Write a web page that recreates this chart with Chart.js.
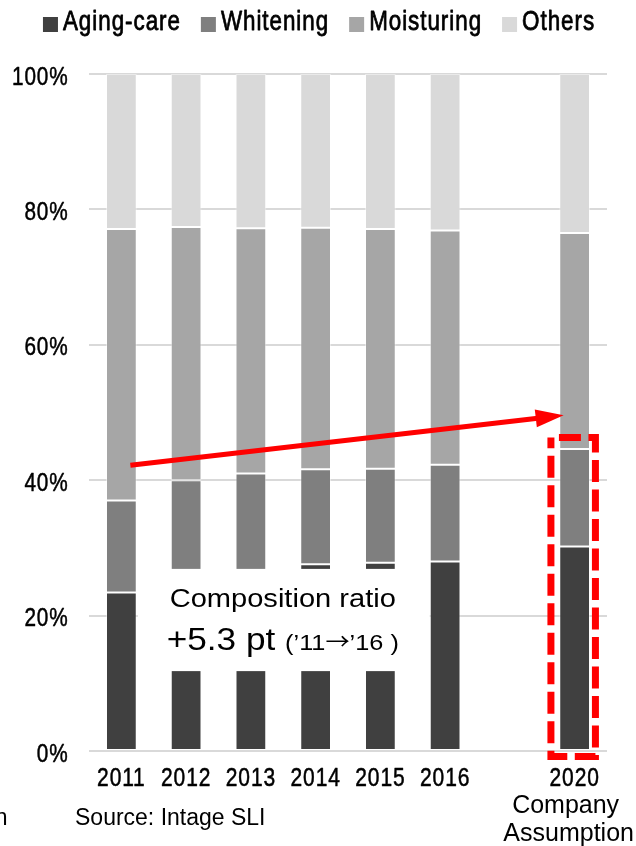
<!DOCTYPE html>
<html>
<head>
<meta charset="utf-8">
<script src="https://cdn.jsdelivr.net/npm/chart.js@4"></script>
<style>
  html, body { margin: 0; padding: 0; background: #fff; }
  #wrap { width: 636px; height: 846px; position: relative; }
</style>
</head>
<body>
<div id="wrap"><canvas id="c" width="636" height="846"></canvas></div>
<script>
// Category axis (an empty slot separates the actuals from the 2020 outlook)
const years = ['2011', '2012', '2013', '2014', '2015', '2016', '', '2020'];

// Share of each segment, % of total
const agingCare  = [23.4, 25.0, 26.0, 27.6, 27.8, 28.0, null, 30.2];
const whitening  = [13.6, 15.0, 15.0, 14.0, 13.9, 14.3, null, 14.4];
const moisturing = [40.1, 37.4, 36.2, 35.7, 35.4, 34.6, null, 31.9];
const others     = [22.9, 22.6, 22.8, 22.7, 22.9, 23.1, null, 23.5];

const seriesNames  = ['Aging-care', 'Whitening', 'Moisturing', 'Others'];
const seriesColors = ['#404040', '#7f7f7f', '#a6a6a6', '#d9d9d9'];
const yTickValues  = [0, 20, 40, 60, 80, 100];

// Trend arrow: aging-care + whitening share, 2011 level to 2020 level
const arrowStart = { index: 0, value: 42.2 };
const arrowEnd   = { index: 7, value: 49.6 };
// Dashed highlight around the 2020 functional share
const highlightTop = 46.3;
const highlightBottom = -0.8;
// White callout band across the middle bars
const calloutTop = 26.9;
const calloutBottom = 11.8;

const SANS = "'Liberation Sans', Arial, sans-serif";
const CJK = "'Noto Sans CJK JP', 'DejaVu Sans', sans-serif";

// Draws text squeezed/stretched horizontally by sx, optionally thickened and letter-spaced
function stretchedText(ctx, text, font, x, y, sx, align, weight, spacing) {
  ctx.save();
  ctx.font = font;
  if (spacing) ctx.letterSpacing = spacing + 'px';
  const w = ctx.measureText(text).width * sx;
  let left = x;
  if (align === 'center') left = x - w / 2;
  else if (align === 'right') left = x - w;
  ctx.translate(left, y);
  ctx.scale(sx, 1);
  ctx.textAlign = 'left';
  ctx.fillText(text, 0, 0);
  if (weight) {
    ctx.strokeStyle = ctx.fillStyle;
    ctx.lineWidth = weight;
    ctx.lineJoin = 'round';
    ctx.strokeText(text, 0, 0);
  }
  ctx.restore();
  return w;
}
function textWidth(ctx, text, font, sx, spacing) {
  ctx.save();
  ctx.font = font;
  if (spacing) ctx.letterSpacing = spacing + 'px';
  const w = ctx.measureText(text).width * sx;
  ctx.restore();
  return w;
}

const overlay = {
  id: 'overlay',
  afterDraw(chart) {
    const ctx = chart.ctx;
    const xs = chart.scales.x;
    const ys = chart.scales.y;
    const bars0 = chart.getDatasetMeta(0).data;

    // axis labels
    ctx.save();
    ctx.fillStyle = '#000000';
    ctx.textBaseline = 'alphabetic';
    ys.ticks.forEach(t => {
      const py = ys.getPixelForValue(t.value);
      stretchedText(ctx, t.value + '%', '25px ' + SANS, xs.left - 20.5, py + 10.5, 0.83, 'right', 0.5, 1);
    });
    xs.ticks.forEach((t, i) => {
      const lab = chart.data.labels[i];
      if (!lab) return;
      stretchedText(ctx, lab, '25px ' + SANS, xs.getPixelForTick(i), 786, 0.84, 'center', 0.5, 1);
    });
    ctx.restore();

    // white callout band
    const b2011 = bars0[0];
    const b2016 = bars0[5];
    const left = b2011.x + b2011.width / 2 + 1;
    const right = b2016.x - b2016.width / 2;
    const top = ys.getPixelForValue(calloutTop);
    const bottom = ys.getPixelForValue(calloutBottom);
    ctx.save();
    ctx.fillStyle = '#ffffff';
    ctx.fillRect(left, top, right - left, bottom - top);

    // callout text
    ctx.fillStyle = '#000000';
    ctx.textBaseline = 'alphabetic';
    const cx = (left + right) / 2 - 1;
    stretchedText(ctx, 'Composition ratio', '25.5px ' + SANS, cx, top + 38, 1.14, 'center');
    const bigFont = '32px ' + SANS, smallFont = '22px ' + SANS, arrowFont = '22px ' + CJK;
    const wBig = textWidth(ctx, '+5.3 pt ', bigFont, 1.1);
    const wA = textWidth(ctx, '(\u201911', smallFont, 1.15);
    const wArr = textWidth(ctx, '\u2192', arrowFont, 1.1);
    const wB = textWidth(ctx, '\u201916 )', smallFont, 1.15);
    let tx = cx - (wBig + wA + wArr + wB) / 2;
    const ty = top + 81;
    stretchedText(ctx, '+5.3 pt ', bigFont, tx, ty, 1.1, 'left'); tx += wBig;
    stretchedText(ctx, '(\u201911', smallFont, tx, ty, 1.15, 'left'); tx += wA;
    stretchedText(ctx, '\u2192', arrowFont, tx, ty - 1, 1.1, 'left'); tx += wArr;
    stretchedText(ctx, '\u201916 )', smallFont, tx, ty, 1.15, 'left');
    ctx.restore();

    // red trend arrow
    const x1 = xs.getPixelForValue(arrowStart.index) + 9;
    const y1 = ys.getPixelForValue(arrowStart.value);
    const x2 = xs.getPixelForValue(arrowEnd.index) - 11;
    const y2 = ys.getPixelForValue(arrowEnd.value);
    const ang = Math.atan2(y2 - y1, x2 - x1);
    const headLen = 28, headHalf = 9;
    const bx = x2 - headLen * Math.cos(ang);
    const by = y2 - headLen * Math.sin(ang);
    ctx.save();
    ctx.strokeStyle = '#ff0000';
    ctx.fillStyle = '#ff0000';
    ctx.lineWidth = 5;
    ctx.beginPath();
    ctx.moveTo(x1, y1);
    ctx.lineTo(bx + 2 * Math.cos(ang), by + 2 * Math.sin(ang));
    ctx.stroke();
    ctx.beginPath();
    ctx.moveTo(x2, y2);
    ctx.lineTo(bx + headHalf * Math.sin(ang), by - headHalf * Math.cos(ang));
    ctx.lineTo(bx - headHalf * Math.sin(ang), by + headHalf * Math.cos(ang));
    ctx.closePath();
    ctx.fill();
    ctx.restore();

    // dashed highlight around 2020
    const c20 = xs.getPixelForValue(7);
    const hx1 = c20 - 23.7, hx2 = c20 + 20.8;
    const hy1 = ys.getPixelForValue(highlightTop);
    const hy2 = ys.getPixelForValue(highlightBottom);
    ctx.save();
    ctx.strokeStyle = '#ff0000';
    ctx.lineWidth = 7;
    ctx.setLineDash([22, 7.5]);
    ctx.lineDashOffset = -4;
    ctx.beginPath();
    ctx.moveTo(hx1 + 4, hy1);
    ctx.lineTo(hx2, hy1);
    ctx.lineTo(hx2, hy2);
    ctx.lineTo(hx1, hy2);
    ctx.lineTo(hx1, hy1);
    ctx.stroke();
    ctx.restore();

    // second and third lines of the 2020 label
    ctx.save();
    ctx.fillStyle = '#000000';
    ctx.font = '25px ' + SANS;
    ctx.textAlign = 'center';
    ctx.textBaseline = 'alphabetic';
    ctx.fillText('Company', c20 - 9, 813);
    ctx.fillText('Assumption', c20 - 6, 841);

    // source note
    ctx.font = '23px ' + SANS;
    ctx.textAlign = 'left';
    ctx.fillText('Source: Intage SLI', 75, 825);
    ctx.textAlign = 'right';
    ctx.fillText('n', 7.5, 825);
    ctx.restore();

    // legend
    ctx.save();
    const legFont = '28px ' + SANS;
    const legSx = 0.8, legSpacing = 1.2;
    const box = 15, gapBox = 5, gapItem = 20;
    const widths = seriesNames.map(n => textWidth(ctx, n, legFont, legSx, legSpacing));
    const total = widths.reduce((a, w) => a + box + gapBox + w, 0) + gapItem * (seriesNames.length - 1);
    let lx = 319 - total / 2;
    ctx.textBaseline = 'alphabetic';
    seriesNames.forEach((n, i) => {
      ctx.fillStyle = seriesColors[i];
      ctx.fillRect(lx, 17, box, box);
      ctx.fillStyle = '#000000';
      stretchedText(ctx, n, legFont, lx + box + gapBox, 30, legSx, 'left', 0.8, legSpacing);
      lx += box + gapBox + widths[i] + gapItem;
    });
    ctx.restore();
  }
};

const seriesData = [agingCare, whitening, moisturing, others];

new Chart(document.getElementById('c'), {
  type: 'bar',
  data: {
    labels: years,
    datasets: seriesNames.map((name, i) => ({
      label: name,
      data: seriesData[i],
      backgroundColor: seriesColors[i],
      borderColor: 'rgba(255,255,255,0.45)',
      borderWidth: 1,
      borderSkipped: false,
      categoryPercentage: 1,
      barPercentage: 0.475
    }))
  },
  options: {
    responsive: false,
    animation: false,
    devicePixelRatio: 1,
    layout: { padding: { top: 74, right: 29, left: 0, bottom: 0 } },
    plugins: {
      legend: { display: false },
      tooltip: { enabled: false }
    },
    scales: {
      x: {
        stacked: true,
        grid: { display: false, drawTicks: false },
        border: { display: false },
        ticks: { display: false, autoSkip: false },
        afterFit(scale) { scale.height = 95; }
      },
      y: {
        stacked: true,
        min: 0,
        max: 100,
        afterBuildTicks(scale) { scale.ticks = yTickValues.map(v => ({ value: v })); },
        grid: { color: '#d9d9d9', lineWidth: 2, drawTicks: false },
        border: { display: false },
        ticks: { display: false },
        afterFit(scale) { scale.width = 89; }
      }
    }
  },
  plugins: [overlay]
});
</script>
</body>
</html>
